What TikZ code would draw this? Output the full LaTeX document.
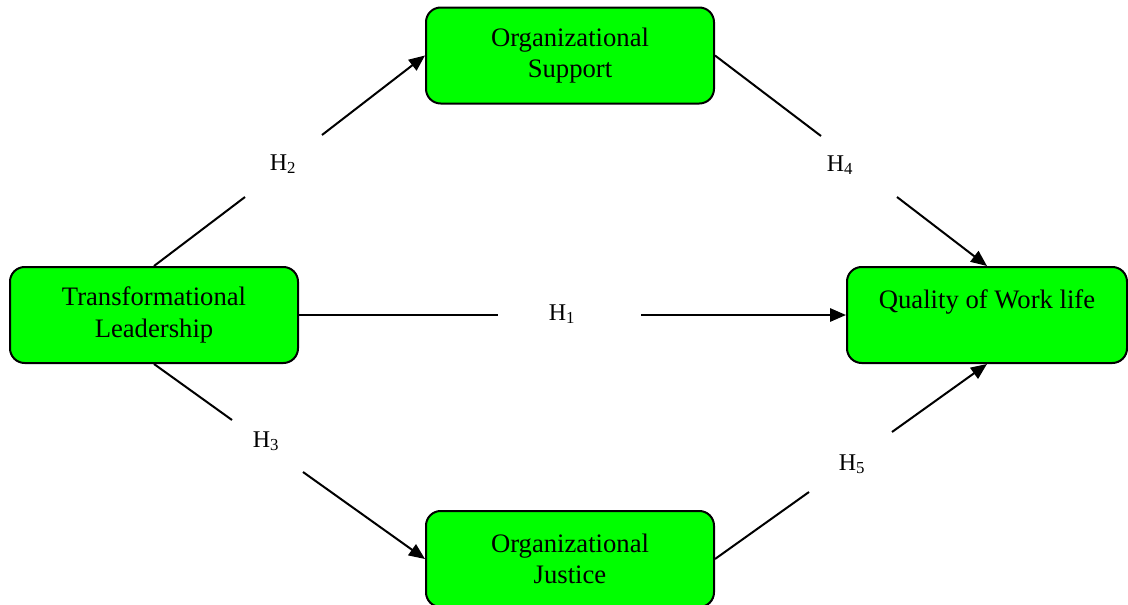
\documentclass[tikz,border=0pt]{standalone}
\usepackage{fontspec}
\setmainfont{Liberation Serif}
\usetikzlibrary{arrows.meta}
\begin{document}
\begin{tikzpicture}[x=0.75pt,y=-0.75pt,
  box/.style={draw=black, line width=1.5pt, fill=green, rounded corners=11pt,
    minimum width=216pt, minimum height=72pt, inner sep=0pt, align=center,
    font=\fontsize{20}{23.5}\selectfont},
  hyp/.style={font=\fontsize{18}{21}\selectfont, inner sep=0pt},
  link/.style={line width=1.5pt},
  arr/.style={link, -{Triangle[length=12pt,width=10pt]}}]
\useasboundingbox (0,0) rectangle (1128,604);

\node[box] (tl) at (154,315) {Transformational\\Leadership};
\node[box] (os) at (570,55.5) {Organizational\\Support};
\node[box, minimum width=210pt, text height=14pt, text depth=24.5pt] (qwl) at (987,315) {Quality of Work life};
\node[box] (oj) at (570,559) {Organizational\\Justice};

\coordinate (h2a) at (245,197); \coordinate (h2b) at (322,135);
\coordinate (h4a) at (821,136); \coordinate (h4b) at (897,197);
\coordinate (h1a) at (498,315); \coordinate (h1b) at (641,315);
\coordinate (h3a) at (232,420); \coordinate (h3b) at (303,472);
\coordinate (h5a) at (809,492); \coordinate (h5b) at (892,432);

\draw[link] (tl.north) -- (h2a);
\draw[arr] (h2b) -- (os.west);
\draw[link] (os.east) -- (h4a);
\draw[arr] (h4b) -- (qwl.north);
\draw[link] (tl.east) -- (h1a);
\draw[arr] (h1b) -- (qwl.west);
\draw[link] (tl.south) -- (h3a);
\draw[arr] (h3b) -- (oj.west);
\draw[link] (oj.east) -- (h5a);
\draw[arr] (h5b) -- (qwl.south);

\node[hyp] (lh2) at (283,164) {H\textsubscript{2}};
\node[hyp] (lh4) at (840,165) {H\textsubscript{4}};
\node[hyp] (lh1) at (562,314) {H\textsubscript{1}};
\node[hyp] (lh3) at (266,441) {H\textsubscript{3}};
\node[hyp] (lh5) at (852,464) {H\textsubscript{5}};
\end{tikzpicture}
\end{document}
